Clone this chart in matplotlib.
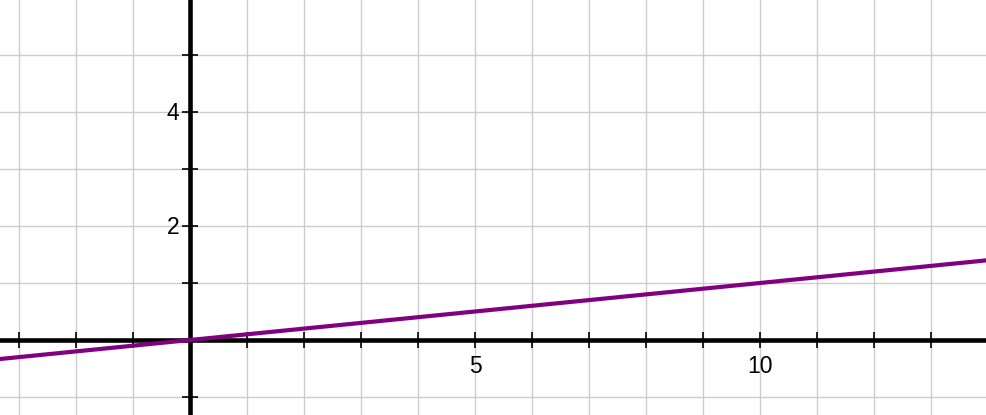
import numpy as np
import matplotlib.pyplot as plt

# line y = x / 10
line_x = [-4, 15]
line_y = [-0.4, 1.5]

x_labels = [5, 10]
y_labels = [2, 4]
x_ticks = [-3, -2, -1, 1, 2, 3, 4, 5, 6, 7, 8, 9, 10, 11, 12, 13]
y_ticks = [-1, 1, 2, 3, 4, 5]

fig = plt.figure(figsize=(9.87, 4.15), dpi=100)
ax = fig.add_axes([0, 0, 1, 1])

ax.set_xlim(-190 / 57, 797 / 57)
ax.set_ylim(-75 / 57, 340 / 57)

# grid
for gx in range(-3, 15):
    ax.axvline(gx, color='#cccccc', lw=1, zorder=0)
for gy in range(-1, 6):
    ax.axhline(gy, color='#cccccc', lw=1, zorder=0)

# axes
ax.axhline(0, color='black', lw=3.3, zorder=2)
ax.axvline(0, color='black', lw=3.3, zorder=2)

# tick crosses
ax.plot(x_ticks, [0] * len(x_ticks), ls='none', marker='|', ms=11.5, mew=1.2, color='black', zorder=2)
ax.plot([0] * len(y_ticks), y_ticks, ls='none', marker='_', ms=11.5, mew=1.2, color='black', zorder=2)

# labels
for v in x_labels:
    ax.text(v, -0.58, str(v), ha='center', va='baseline', fontsize=16.5, family='Liberation Sans')
for v in y_labels:
    ax.text(-0.19, v - 0.14, str(v), ha='right', va='baseline', fontsize=16.5, family='Liberation Sans')

ax.plot(line_x, line_y, color='#800080', lw=3, zorder=3, solid_capstyle='butt')

ax.set_axis_off()
fig.savefig('out.png', dpi=100)
